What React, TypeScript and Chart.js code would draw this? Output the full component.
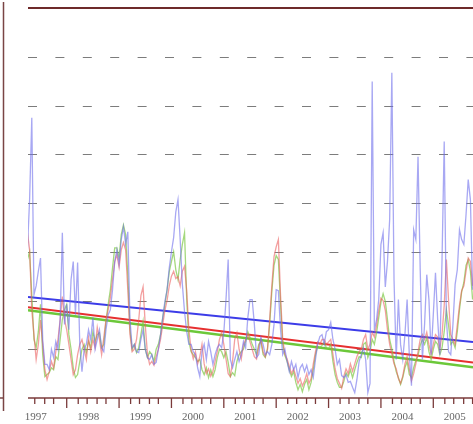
import React, { useEffect, useRef } from "react";
import { Chart, registerables } from "chart.js";

Chart.register(...registerables);

// Sampling: semi-monthly values starting in spring 1997
const sampleStart = 1997.25;
const sampleStep = 1 / 24;

const blueVals = [
  3.04, 4.07, 5.75, 2.12, 2.3, 2.6, 2.87, 1.2, 0.69, 0.69,
  0.58, 1.0, 0.83, 1.16, 1.0, 1.61, 3.39, 1.51, 1.92, 1.4,
  2.43, 2.8, 1.71, 2.78, 1.1, 0.54, 1.0, 1.1, 1.4, 1.2,
  1.65, 1.0, 1.2, 1.4, 1.03, 0.95, 1.4, 1.71, 1.81, 2.22,
  2.8, 3.04, 2.74, 3.25, 3.51, 3.15, 3.41, 1.61, 1.03, 1.1,
  0.95, 0.93, 1.2, 1.4, 1.0, 0.83, 0.79, 0.89, 0.69, 0.73,
  1.0, 1.3, 1.65, 1.98, 2.22, 2.67, 3.0, 3.29, 3.82, 4.07,
  3.25, 2.33, 1.77, 1.36, 1.1, 1.1, 0.95, 0.89, 0.62, 0.44,
  0.95, 1.1, 0.79, 1.16, 0.95, 0.69, 0.89, 1.03, 1.1, 1.03,
  1.34, 2.02, 2.84, 0.79, 0.62, 0.79, 0.95, 0.75, 0.89, 1.16,
  1.03, 1.65, 2.02, 2.02, 1.51, 0.83, 0.89, 1.24, 1.1, 0.89,
  0.95, 0.89, 1.1, 1.51, 2.22, 2.2, 1.4, 0.89, 1.0, 0.75,
  0.54, 0.75, 0.58, 0.69, 0.42, 0.62, 0.69, 0.54, 0.67, 0.48,
  0.58, 0.42, 0.79, 1.1, 1.26, 1.3, 1.1, 1.36, 1.4, 1.55,
  1.2, 1.0, 0.69, 0.79, 0.46, 0.42, 0.48, 0.32, 0.34, 0.22,
  0.11, 0.38, 0.75, 0.89, 1.03, 0.79, 0.11, 0.3, 6.49, 1.4,
  1.61, 2.02, 3.15, 3.39, 2.28, 2.8, 3.66, 6.67, 2.43, 0.79,
  2.02, 1.1, 0.79, 1.3, 2.02, 0.89, 0.25, 3.45, 3.25, 4.95,
  2.63, 0.79, 1.51, 2.53, 2.02, 0.89, 1.71, 2.57, 1.61, 0.89,
  2.84, 5.26, 1.61, 0.95, 0.89, 1.51, 2.33, 2.63, 3.45, 3.25,
  3.15, 3.76, 4.48, 4.07, 2.22,
];

const redVals = [
  3.4, 3.04, 1.8, 1.3, 0.79, 1.1, 1.6, 1.1, 0.58, 0.38,
  0.54, 0.75, 0.62, 0.95, 1.2, 1.61, 2.08, 1.61, 1.4, 1.1,
  0.79, 0.48, 0.58, 0.89, 1.1, 1.2, 1.0, 0.79, 1.24, 0.95,
  1.2, 1.03, 1.45, 1.2, 0.89, 1.24, 1.61, 1.81, 2.06, 2.43,
  2.79, 2.94, 2.68, 3.04, 3.19, 3.04, 2.22, 1.3, 0.95, 1.0,
  1.2, 1.6, 2.1, 2.28, 1.5, 0.9, 0.69, 0.75, 0.67, 0.85,
  1.0, 1.2, 1.5, 1.8, 2.0, 2.3, 2.5, 2.6, 2.45, 2.49,
  2.3, 2.6, 2.7, 2.2, 1.4, 1.0, 0.8, 0.95, 0.7, 0.85,
  1.1, 0.7, 0.5, 0.6, 0.45, 0.55, 0.75, 0.95, 1.2, 1.34,
  1.1, 0.8, 0.5, 0.44, 0.75, 1.2, 1.34, 1.0, 0.8, 1.1,
  1.2, 1.3, 1.15, 1.0, 0.85, 0.8, 1.05, 1.2, 0.95, 0.85,
  1.0, 1.6, 2.3, 2.9, 3.1, 3.25, 2.1, 1.2, 0.9, 0.8,
  0.65, 0.5, 0.6, 0.45, 0.3, 0.4, 0.25, 0.35, 0.5, 0.3,
  0.4, 0.7, 0.95, 1.15, 1.1, 1.2, 1.2, 1.1, 1.15, 1.2,
  0.9, 0.6, 0.4, 0.3, 0.2, 0.45, 0.6, 0.5, 0.7, 0.55,
  0.7, 0.85, 0.95, 1.0, 1.2, 1.3, 1.0, 1.1, 1.35, 1.25,
  1.5, 1.8, 2.05, 2.0, 1.8, 1.4, 1.1, 0.9, 0.7, 0.6,
  0.4, 0.3, 0.45, 0.7, 0.85, 0.6, 0.35, 0.5, 0.7, 0.95,
  1.2, 1.3, 1.2, 1.35, 1.1, 0.9, 1.1, 1.3, 1.25, 1.0,
  1.3, 1.9, 2.84, 2.0, 1.3, 1.2, 1.1, 1.5, 1.9, 2.2,
  2.3, 2.6, 2.87, 2.8, 2.3,
];

const greenVals = [
  2.84, 3.0, 2.12, 1.2, 1.03, 1.36, 1.92, 0.89, 0.44, 0.48,
  0.52, 0.62, 0.58, 0.85, 0.79, 1.2, 1.61, 1.81, 1.92, 1.3,
  1.0, 0.62, 0.42, 0.48, 0.75, 1.0, 1.1, 0.93, 1.16, 1.03,
  1.36, 1.16, 1.3, 1.34, 1.03, 1.1, 1.57, 1.92, 2.22, 2.67,
  3.08, 3.08, 2.87, 3.35, 3.55, 3.35, 2.53, 1.4, 1.0, 1.1,
  0.93, 1.03, 1.3, 1.57, 1.0, 0.83, 0.95, 0.89, 0.75, 1.0,
  1.1, 1.3, 1.65, 1.92, 2.22, 2.59, 2.8, 3.0, 2.63, 2.43,
  2.84, 3.15, 3.39, 2.02, 1.16, 0.95, 0.89, 0.83, 0.75, 0.79,
  0.58, 0.48, 0.62, 0.42, 0.58, 0.44, 0.58, 0.83, 1.0, 0.95,
  0.83, 0.95, 0.73, 0.44, 0.52, 0.46, 0.75, 0.89, 0.95, 1.0,
  1.16, 1.36, 1.24, 1.1, 1.0, 0.89, 1.1, 1.16, 0.89, 0.83,
  1.0, 1.51, 2.18, 2.72, 2.92, 2.84, 1.92, 1.1, 0.87, 0.75,
  0.58, 0.44, 0.54, 0.32, 0.17, 0.28, 0.13, 0.28, 0.38, 0.17,
  0.32, 0.58, 0.89, 1.06, 1.03, 1.08, 1.14, 1.03, 1.01, 1.1,
  0.75, 0.48, 0.32, 0.22, 0.22, 0.34, 0.52, 0.44, 0.58, 0.42,
  0.58, 0.73, 0.85, 0.83, 1.1, 1.14, 0.83, 0.95, 1.2, 1.1,
  1.34, 1.65, 1.96, 2.14, 1.98, 1.61, 1.2, 1.01, 0.75, 0.54,
  0.42, 0.28, 0.42, 0.62, 0.75, 0.48, 0.42, 0.62, 0.77, 0.87,
  1.08, 1.2, 1.1, 1.24, 0.95, 0.79, 1.0, 1.16, 1.1, 0.89,
  1.03, 1.36, 1.81, 1.49, 1.1, 1.16, 1.03, 1.36, 1.81, 2.18,
  2.37, 2.72, 2.84, 2.6, 2.02,
];

// Linear trends: [value at start, value at end]
const blueTrend = [2.07, 1.15];
const redTrend = [1.86, 0.73];
const greenTrend = [1.8, 0.63];

const xMin = 1997.261;
const xMax = 2005.758;
const yMin = 0;
const yMax = 8;
const gridValues = [1, 2, 3, 4, 5, 6, 7];
const yearLabels = ["1997", "1998", "1999", "2000", "2001", "2002", "2003", "2004", "2005"];
const minorFractions = [0.22, 0.39, 0.58, 0.75];

const toPoints = (vals: number[]) =>
  vals.map((v, i) => ({ x: sampleStart + i * sampleStep, y: v }));

const trendPoints = (t: number[]) => [
  { x: xMin, y: t[0] },
  { x: xMax, y: t[1] },
];

const framePlugin = {
  id: "frame",
  beforeDatasetsDraw(chart: any) {
    const { ctx, chartArea, scales } = chart;
    ctx.save();
    ctx.strokeStyle = "#7c7c7c";
    ctx.lineWidth = 1;
    ctx.setLineDash([9, 18.4]);
    for (const g of gridValues) {
      const y = Math.round(scales.y.getPixelForValue(g)) + 0.5;
      ctx.beginPath();
      ctx.moveTo(chartArea.left, y);
      ctx.lineTo(chartArea.right, y);
      ctx.stroke();
    }
    ctx.restore();
  },
  afterDraw(chart: any) {
    const { ctx, chartArea, scales } = chart;
    const xs = scales.x;
    const ys = scales.y;
    ctx.save();
    // top border
    const yTop = ys.getPixelForValue(yMax);
    ctx.strokeStyle = "#6e2a2a";
    ctx.lineWidth = 2;
    ctx.beginPath();
    ctx.moveTo(chartArea.left, yTop);
    ctx.lineTo(chartArea.right, yTop);
    ctx.stroke();
    // bottom axis
    const yBot = ys.getPixelForValue(yMin);
    ctx.strokeStyle = "#7a3a3a";
    ctx.lineWidth = 1.5;
    ctx.beginPath();
    ctx.moveTo(chartArea.left, yBot);
    ctx.lineTo(chartArea.right, yBot);
    ctx.stroke();
    // ticks
    ctx.lineWidth = 1.3;
    for (let yr = 1997; yr <= 2006; yr++) {
      const xp = xs.getPixelForValue(yr);
      if (xp >= chartArea.left - 0.5 && xp <= chartArea.right + 0.5) {
        ctx.beginPath();
        ctx.moveTo(xp, yBot);
        ctx.lineTo(xp, yBot + 10);
        ctx.stroke();
      }
      for (const f of minorFractions) {
        const xm = xs.getPixelForValue(yr + f);
        if (xm >= chartArea.left - 2 && xm <= chartArea.right + 0.5) {
          ctx.beginPath();
          ctx.moveTo(Math.max(xm, chartArea.left + 0.5), yBot);
          ctx.lineTo(Math.max(xm, chartArea.left + 0.5), yBot + 6);
          ctx.stroke();
        }
      }
    }
    // year labels
    ctx.fillStyle = "#666";
    ctx.font = '11px "Liberation Serif", "DejaVu Serif", serif';
    ctx.textAlign = "center";
    ctx.textBaseline = "middle";
    yearLabels.forEach((lab) => {
      const xp = xs.getPixelForValue(Number(lab) + 0.41);
      ctx.fillText(lab, xp, yBot + 19);
    });
    // frame of neighbouring panel at the far left
    ctx.strokeStyle = "#7a4444";
    ctx.lineWidth = 1.5;
    ctx.beginPath();
    ctx.moveTo(3.5, 2);
    ctx.lineTo(3.5, yBot + 13);
    ctx.stroke();
    ctx.beginPath();
    ctx.moveTo(0, yBot);
    ctx.lineTo(3.5, yBot);
    ctx.stroke();
    ctx.restore();
  },
};

export default function App() {
  const ref = useRef<HTMLCanvasElement | null>(null);
  useEffect(() => {
    if (!ref.current) return;
    const chart = new Chart(ref.current, {
      type: "line",
      data: {
        datasets: [
          {
            data: toPoints(blueVals),
            borderColor: "rgba(110,110,235,0.6)",
            borderWidth: 1.3,
          },
          {
            data: toPoints(redVals),
            borderColor: "rgba(235,95,95,0.6)",
            borderWidth: 1.3,
          },
          {
            data: toPoints(greenVals),
            borderColor: "rgba(125,200,70,0.7)",
            borderWidth: 1.3,
          },
          {
            data: trendPoints(blueTrend),
            borderColor: "#3c3ce8",
            borderWidth: 2,
          },
          {
            data: trendPoints(greenTrend),
            borderColor: "#6cc83a",
            borderWidth: 2.5,
          },
          {
            data: trendPoints(redTrend),
            borderColor: "#e63030",
            borderWidth: 2,
          },
        ] as any,
      },
      options: {
        animation: false,
        responsive: false,
        devicePixelRatio: 1,
        layout: { padding: { left: 28, right: 0, top: 8, bottom: 26 } },
        elements: { point: { radius: 0 }, line: { tension: 0 } },
        scales: {
          x: { type: "linear", min: xMin, max: xMax, display: false },
          y: { min: yMin, max: yMax, display: false },
        },
        plugins: { legend: { display: false }, tooltip: { enabled: false } },
      },
      plugins: [framePlugin],
    });
    return () => chart.destroy();
  }, []);
  return (
    <div style={{ position: "fixed", left: 0, top: 0, width: 473, height: 424, background: "#fff" }}>
      <canvas ref={ref} width={473} height={424} style={{ display: "block" }} />
    </div>
  );
}
